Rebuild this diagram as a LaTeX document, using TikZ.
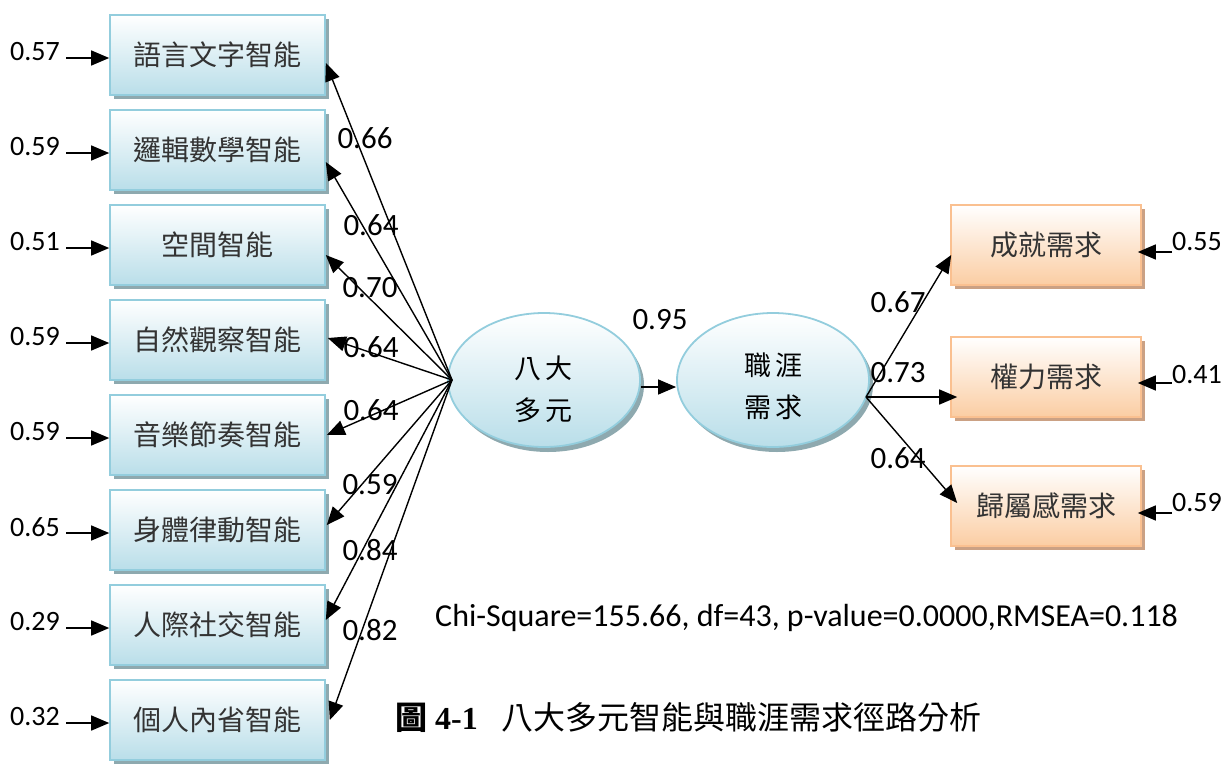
\documentclass[tikz,border=0pt]{standalone}
\usepackage{fontspec}
\setmainfont{Carlito}
\newfontfamily\cjk{Noto Sans CJK TC}
\newfontfamily\serifnum{Liberation Serif}
\usetikzlibrary{shapes.geometric,arrows.meta}
\definecolor{bblue}{HTML}{B9DEE9}
\definecolor{bborder}{HTML}{93CDDD}
\definecolor{bshadow}{HTML}{8EA9AF}
\definecolor{ppeach}{HTML}{FBCDA3}
\definecolor{pborder}{HTML}{FAC090}
\definecolor{pshadow}{HTML}{CBA184}
\tikzset{
  arr/.style={-{Triangle[length=18pt,width=15pt]}, line width=1.4pt, black},
  lbox/.style={draw=bborder, line width=1.6pt, top color=white, bottom color=bblue,
    minimum width=215pt, minimum height=80pt, inner sep=0pt,
    font=\cjk\fontsize{28}{30}\selectfont, text=black!80,
    preaction={fill=bshadow, transform canvas={xshift=4pt,yshift=-4pt}}},
  rbox/.style={draw=pborder, line width=1.6pt, top color=white, bottom color=ppeach,
    minimum width=190pt, minimum height=80pt, inner sep=0pt,
    font=\cjk\fontsize{28}{30}\selectfont, text=black!80,
    preaction={fill=pshadow, transform canvas={xshift=4pt,yshift=-4pt}}},
  lat/.style={ellipse, draw=bborder, line width=1.8pt, top color=white, bottom color=bblue,
    minimum width=192pt, minimum height=134pt, inner sep=0pt,
    preaction={fill=bshadow, transform canvas={xshift=4pt,yshift=-5pt}}},
  lattext/.style={align=center, inner sep=0pt, font=\cjk\fontsize{27}{42}\selectfont},
  err/.style={font=\fontsize{28}{30}\selectfont, inner sep=0pt},
  ld/.style={font=\fontsize{31}{33}\selectfont, inner sep=0pt},
}
\begin{document}
\begin{tikzpicture}[x=1pt,y=-1pt]
\useasboundingbox (0,0) rectangle (1222,763);
% left boxes
\foreach \i/\t in {1/語言文字智能,2/邏輯數學智能,3/空間智能,4/自然觀察智能,5/音樂節奏智能,6/身體律動智能,7/人際社交智能,8/個人內省智能}{
  \node[lbox] (b\i) at (217.5,{55+95*(\i-1)}) {\t};
}
% error labels left
\foreach \i/\v in {1/0.57,2/0.59,3/0.51,4/0.59,5/0.59,6/0.65,7/0.29,8/0.32}{
  \node[err, anchor=west] (e\i) at (10,{52+95*(\i-1)}) {\v};
  \draw[arr] ([xshift=6pt,yshift=-6pt]e\i.east) -- ([yshift=-3pt]b\i.west);
}
% latent variables
\node[lat] (L) at (544,380) {};
\node[lattext] (Lt) at (543,389) {八\hspace{4pt}大\\多\hspace{4pt}元};
\node[lat] (R) at (773,380) {};
\node[lattext] (Rt) at (773,386) {職\hspace{4pt}涯\\需\hspace{4pt}求};
\coordinate (lh) at (452,380);
\coordinate (rh) at (866,397);
% loadings left
\draw[arr] (lh) -- ([yshift=-8pt]b1.east);
\draw[arr] (lh) -- ([yshift=-12pt]b2.east);
\draw[arr] (lh) -- ([yshift=-10pt]b3.east);
\draw[arr] (lh) -- ([xshift=2pt,yshift=2pt]b4.east);
\draw[arr] (lh) -- ([xshift=1pt]b5.east);
\draw[arr] (lh) -- ([xshift=1pt,yshift=5pt]b6.east);
\draw[arr] (lh) -- ([yshift=5pt]b7.east);
\draw[arr] (lh) -- ([xshift=4pt]b8.east);
\node[ld] (l1) at (365,138) {0.66};
\node[ld] (l2) at (371,225) {0.64};
\node[ld] (l3) at (370,288) {0.70};
\node[ld] (l4) at (371,347) {0.64};
\node[ld] (l5) at (371,410) {0.64};
\node[ld] (l6) at (370,485) {0.59};
\node[ld] (l7) at (370,550) {0.84};
\node[ld] (l8) at (370,630) {0.82};
% structural path
\draw[arr] ([yshift=-7pt]L.east) -- ([yshift=-7pt]R.west);
\node[ld] (s) at (660,320) {0.95};
% right boxes
\node[rbox] (r1) at (1046,245) {成就需求};
\node[rbox] (r2) at (1046,377) {權力需求};
\node[rbox] (r3) at (1046,506) {歸屬感需求};
\draw[arr] (rh) -- ([xshift=1pt,yshift=-10pt]r1.west);
\draw[arr] (rh) -- ([xshift=7pt,yshift=-20pt]r2.west);
\draw[arr] (rh) -- ([xshift=7pt,yshift=3pt]r3.west);
\node[ld] (m1) at (898,302) {0.67};
\node[ld] (m2) at (898,373) {0.73};
\node[ld] (m3) at (898,458) {0.64};
% right errors
\node[err, anchor=west] (n1) at (1172,242) {0.55};
\node[err, anchor=west] (n2) at (1172,375) {0.41};
\node[err, anchor=west] (n3) at (1172,503) {0.59};
\draw[arr] ([yshift=-10pt]n1.west) -- ([xshift=-4pt,yshift=-7pt]r1.east);
\draw[arr] ([yshift=-8pt]n2.west) -- ([xshift=-4pt,yshift=-6pt]r2.east);
\draw[arr] ([yshift=-10pt]n3.west) -- ([xshift=-4pt,yshift=-7pt]r3.east);
% fit statistics
\node[anchor=west, inner sep=0pt, font=\fontsize{32}{34}\selectfont] (fit) at (435,618) {Chi-Square=155.66, df=43, p-value=0.0000,RMSEA=0.118};
% caption
\node[anchor=west, inner sep=0pt, font=\cjk\fontsize{32}{34}\selectfont] (cap) at (395,718) {{\bfseries 圖}\hspace{8pt}{\serifnum\bfseries 4-1}\hspace{24pt}八大多元智能與職涯需求徑路分析};
\end{tikzpicture}
\end{document}
